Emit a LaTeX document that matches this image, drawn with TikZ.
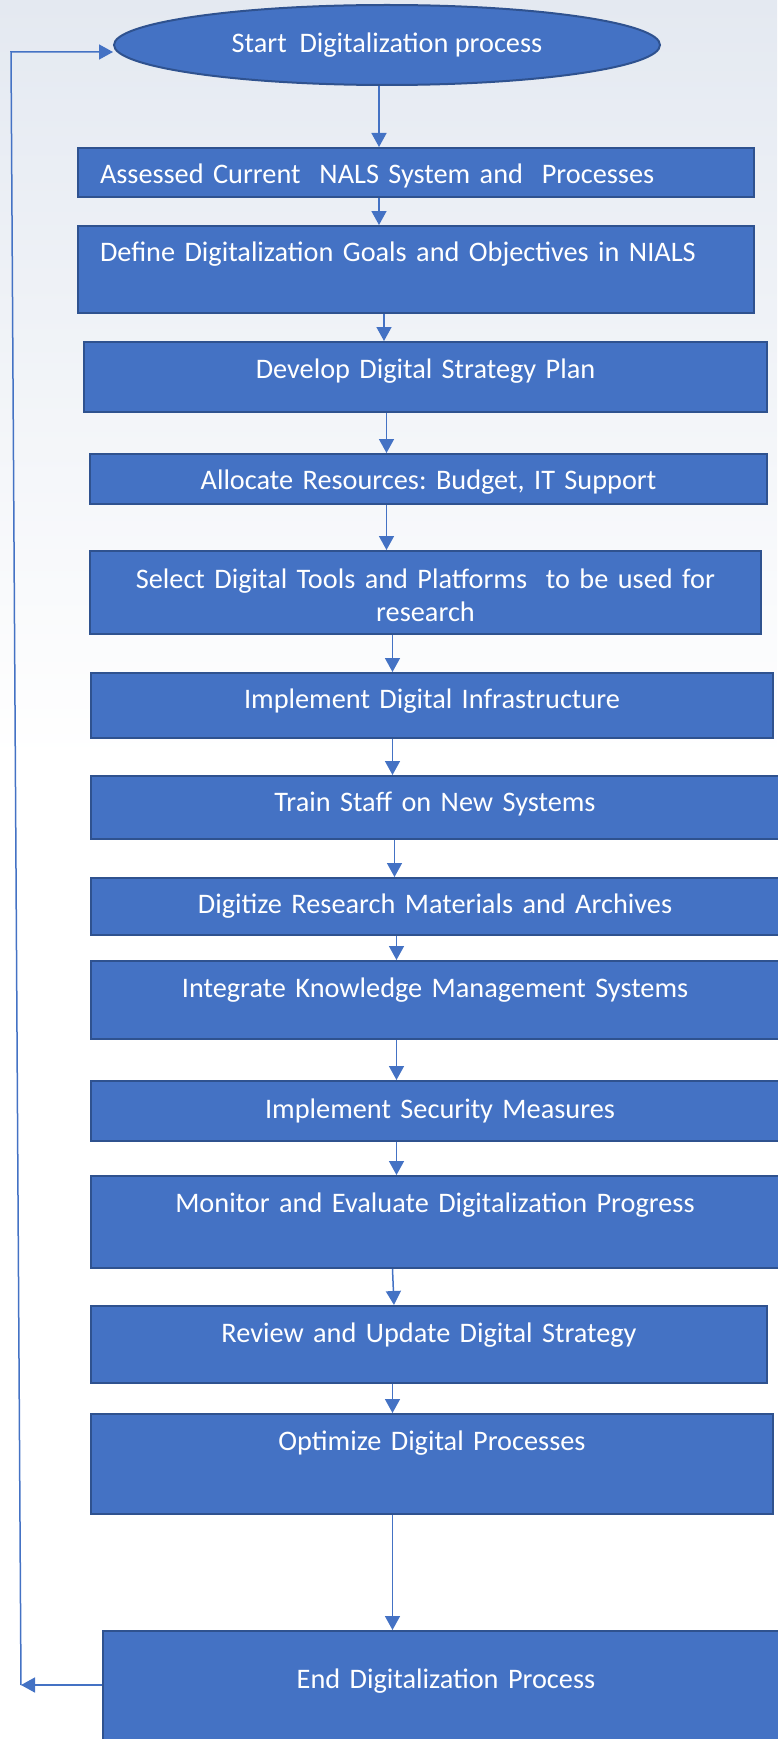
\documentclass[tikz,border=0pt]{standalone}
\usepackage{fontspec}
\setmainfont{Carlito}
\frenchspacing
\usetikzlibrary{shapes.geometric,arrows.meta}
\definecolor{boxfill}{HTML}{4472C4}
\definecolor{boxline}{HTML}{2F528F}
\definecolor{flowline}{HTML}{4472C4}
\definecolor{bgtop}{HTML}{E4E9F1}

\begin{document}
\begin{tikzpicture}[x=1pt,y=-1pt,
    stepbox/.style={rectangle, draw=boxline, line width=2pt, fill=boxfill, text=white,
      anchor=north west, inner sep=0pt, align=center, text height=36pt,
      font=\fontsize{28.3}{33}\selectfont},
    leftbox/.style={stepbox, align=left, inner xsep=22pt},
    startnode/.style={ellipse, draw=boxline, line width=2pt, fill=boxfill, text=white,
      minimum width=546pt, minimum height=80pt, font=\fontsize{28.3}{33}\selectfont},
    flow/.style={draw=flowline, line width=1.5pt, -{Triangle[width=15pt,length=14pt]}}]
    \useasboundingbox (0,0) rectangle (777,1739);
    \fill[top color=bgtop, bottom color=white] (0,0) rectangle (777,760);

    \node (start) [startnode] at (387,45) {Start~ Digitalization process};
    \node (s1) [leftbox, text width=632pt, text depth=13pt] at (77,147) {Assessed Current~ NALS System and~ Processes};
    \node (s2) [leftbox, text width=632pt, text height=35pt, text depth=52pt] at (77,225) {Define Digitalization Goals and Objectives in NIALS};
    \node (s3) [stepbox, text width=683pt, text depth=34pt] at (83,341) {Develop Digital Strategy Plan};
    \node (s4) [stepbox, text width=677pt, text height=35pt, text depth=15pt] at (89,453) {Allocate Resources: Budget, IT Support};
    \node (s5) [stepbox, text width=671pt, text height=37pt, text depth=46pt] at (89,550) {Select Digital Tools and Platforms~ to be used for\\research};
    \node (s6) [stepbox, text width=682pt, text height=35pt, text depth=30pt] at (90,672) {Implement Digital Infrastructure};
    \node (s7) [stepbox, text width=688pt, text height=35pt, text depth=28pt] at (90,775) {Train Staff on New Systems};
    \node (s8) [stepbox, text width=688pt, text height=35pt, text depth=22pt] at (90,877) {Digitize Research Materials and Archives};
    \node (s9) [stepbox, text width=688pt, text depth=42pt] at (90,960) {Integrate Knowledge Management Systems};
    \node (s10) [stepbox, text width=698pt, text height=37pt, text depth=23pt] at (90,1080) {Implement Security Measures};
    \node (s11) [stepbox, text width=688pt, text depth=56pt] at (90,1175) {Monitor and Evaluate Digitalization Progress};
    \node (s12) [stepbox, text width=676pt, text depth=41pt] at (90,1305) {Review and Update Digital Strategy};
    \node (s13) [stepbox, text width=682pt, text depth=64pt] at (90,1413) {Optimize Digital Processes};
    \node (end) [stepbox, text width=686pt, text height=57pt, text depth=73pt] at (102,1630) {End Digitalization Process};

    \draw[flow] (379,0 |- start.south) -- (379,0 |- s1.north);
    \draw[flow] (379,0 |- s1.south) -- (379,0 |- s2.north);
    \draw[flow] (384,0 |- s2.south) -- (384,0 |- s3.north);
    \draw[flow] (386.5,0 |- s3.south) -- (386.5,0 |- s4.north);
    \draw[flow] (386.5,0 |- s4.south) -- (386.5,0 |- s5.north);
    \draw[flow] (392.5,0 |- s5.south) -- (392.5,0 |- s6.north);
    \draw[flow] (392.5,0 |- s6.south) -- (392.5,0 |- s7.north);
    \draw[flow] (394.5,0 |- s7.south) -- (394.5,0 |- s8.north);
    \draw[flow] (396.5,0 |- s8.south) -- (396.5,0 |- s9.north);
    \draw[flow] (396.5,0 |- s9.south) -- (396.5,0 |- s10.north);
    \draw[flow] (396.5,0 |- s10.south) -- (396.5,0 |- s11.north);
    \draw[flow] (392.5,0 |- s11.south) -- (394,0 |- s12.north);
    \draw[flow] (392.5,0 |- s12.south) -- (392.5,0 |- s13.north);
    \draw[flow] (392.5,0 |- s13.south) -- (392.5,0 |- end.north);

    % loop back to the start
    \coordinate (bl) at (21,1685);
    \coordinate (tl) at (11,52);
    \draw[flow] (end.west |- bl) -- (bl);
    \draw[flow] (bl) -- (tl) -- (start.west |- tl);
\end{tikzpicture}
\end{document}
